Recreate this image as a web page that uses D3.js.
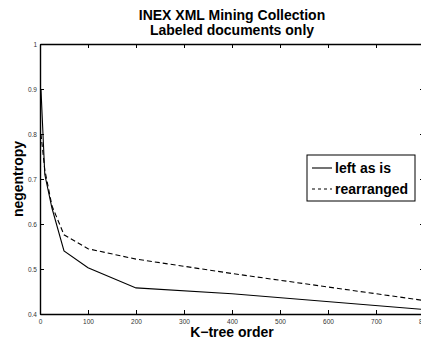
<!DOCTYPE html>
<html lang="en">
<head>
    <meta charset="UTF-8">
    <script src="https://d3js.org/d3.v7.min.js"></script>
    <title>INEX XML Mining Collection</title>
    <style>
        body { margin: 0; background: #fff; }
        text { font-family: "Liberation Sans", Arial, sans-serif; }
    </style>
</head>
<body>
    <script>
        var w = 421;
        var h = 341;

        // data
        var kOrder = [2, 10, 25, 50, 100, 200, 400, 800];
        var leftAsIs = [0.9, 0.71, 0.635, 0.54, 0.503, 0.458, 0.445, 0.41];
        var rearranged = [0.8, 0.72, 0.64, 0.576, 0.545, 0.522, 0.49, 0.43];
        var seriesNames = ["left as is", "rearranged"];
        var xTicks = [0, 100, 200, 300, 400, 500, 600, 700, 800];
        var yTicks = [0.4, 0.5, 0.6, 0.7, 0.8, 0.9, 1];

        // plot box (right edge falls just outside the window, as in the original)
        var boxL = 40, boxR = 424, boxT = 44, boxB = 314;

        var x = d3.scaleLinear().domain([0, 800]).range([boxL, boxR]);
        var y = d3.scaleLinear().domain([0.4, 1]).range([boxB, boxT]);

        var svg = d3.select("body")
                    .append("svg")
                    .attr("width", w)
                    .attr("height", h);

        // axes: ticks inside the box
        var tickFmt = function(d) { return d; };
        svg.append("g")
            .attr("transform", "translate(0," + boxB + ")")
            .call(d3.axisBottom(x).tickValues(xTicks).tickSizeInner(-4).tickSizeOuter(0).tickPadding(5).tickFormat(tickFmt));
        svg.append("g")
            .attr("transform", "translate(0," + boxT + ")")
            .call(d3.axisTop(x).tickValues(xTicks).tickSizeInner(-4).tickSizeOuter(0).tickFormat(""));
        svg.append("g")
            .attr("transform", "translate(" + boxL + ",0)")
            .call(d3.axisLeft(y).tickValues(yTicks).tickSizeInner(-4).tickSizeOuter(0).tickPadding(3).tickFormat(tickFmt));
        svg.append("g")
            .attr("transform", "translate(" + boxR + ",0)")
            .call(d3.axisRight(y).tickValues(yTicks).tickSizeInner(-4).tickSizeOuter(0).tickFormat(""));

        svg.selectAll(".domain").attr("stroke", "#000").attr("stroke-width", 1.4);
        svg.selectAll(".tick line").attr("stroke", "#000").attr("stroke-width", 1);
        svg.selectAll(".tick text")
            .attr("font-size", "6.5px")
            .attr("fill", "#333")
            .attr("font-family", "Liberation Sans, Arial, sans-serif");

        // lines
        var line = d3.line()
                     .x(function(d) { return x(d[0]); })
                     .y(function(d) { return y(d[1]); });

        svg.append("path")
            .datum(d3.zip(kOrder, leftAsIs))
            .attr("fill", "none")
            .attr("stroke", "#000")
            .attr("stroke-width", 1.1)
            .attr("d", line);

        svg.append("path")
            .datum(d3.zip(kOrder, rearranged))
            .attr("fill", "none")
            .attr("stroke", "#000")
            .attr("stroke-width", 1.1)
            .attr("stroke-dasharray", "5,3")
            .attr("d", line);

        // title
        svg.append("text")
            .attr("x", 232).attr("y", 20)
            .attr("text-anchor", "middle")
            .attr("font-size", "14px").attr("font-weight", "bold")
            .text("INEX XML Mining Collection");
        svg.append("text")
            .attr("x", 232).attr("y", 35)
            .attr("text-anchor", "middle")
            .attr("font-size", "14px").attr("font-weight", "bold")
            .text("Labeled documents only");

        // axis labels
        svg.append("text")
            .attr("x", 232).attr("y", 337)
            .attr("text-anchor", "middle")
            .attr("font-size", "14px").attr("font-weight", "bold")
            .text("K\u2212tree order");
        svg.append("text")
            .attr("transform", "translate(23,179) rotate(-90)")
            .attr("text-anchor", "middle")
            .attr("font-size", "14px").attr("font-weight", "bold")
            .text("negentropy");

        // legend
        var lg = svg.append("g").attr("transform", "translate(307,155)");
        lg.append("rect")
            .attr("width", 108).attr("height", 46)
            .attr("fill", "#fff").attr("stroke", "#000").attr("stroke-width", 1);
        var rows = lg.selectAll("g.row")
                     .data(seriesNames)
                     .enter()
                     .append("g")
                     .attr("class", "row")
                     .attr("transform", function(d, i) { return "translate(0," + (13 + i * 21) + ")"; });
        rows.append("line")
            .attr("x1", 5).attr("x2", 25)
            .attr("stroke", "#000").attr("stroke-width", 1.1)
            .attr("stroke-dasharray", function(d, i) { return i ? "3,3" : null; });
        rows.append("text")
            .attr("x", 28).attr("y", 5)
            .attr("font-size", "14px").attr("font-weight", "bold")
            .text(function(d) { return d; });
    </script>
</body>
</html>
